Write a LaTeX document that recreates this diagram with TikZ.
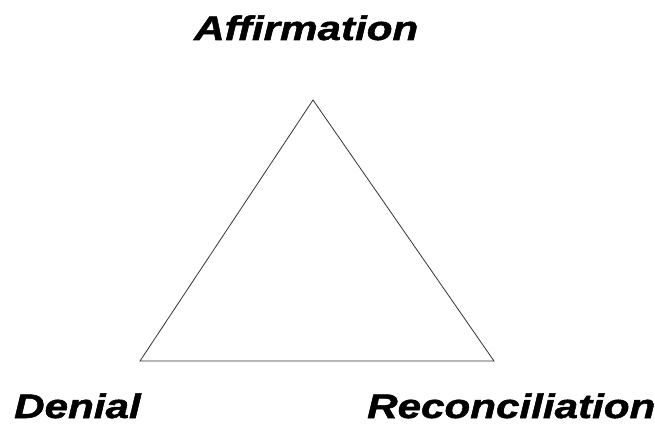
\documentclass[tikz,border=0pt]{standalone}
\usepackage{fontspec}
\newfontfamily\labfont[FakeStretch=1.24,FakeBold=1.5]{Liberation Sans}
\begin{document}
\begin{tikzpicture}[x=1pt,y=-1pt,
  lab/.style={anchor=base west,inner sep=0pt,font=\labfont\bfseries\itshape\fontsize{34}{38}\selectfont}]
\useasboundingbox (0,0) rectangle (655,427);
\coordinate (top) at (313,100);
\coordinate (bl) at (140,361);
\coordinate (br) at (494,361);
\draw[line width=0.8pt,black!80] (top) -- (br) -- (bl) -- cycle;
\node[lab] (aff) at (194,40) {Affirmation};
\node[lab] (den) at (14,418) {Denial};
\node[lab] (rec) at (367,418) {Reconciliation};
\end{tikzpicture}
\end{document}
